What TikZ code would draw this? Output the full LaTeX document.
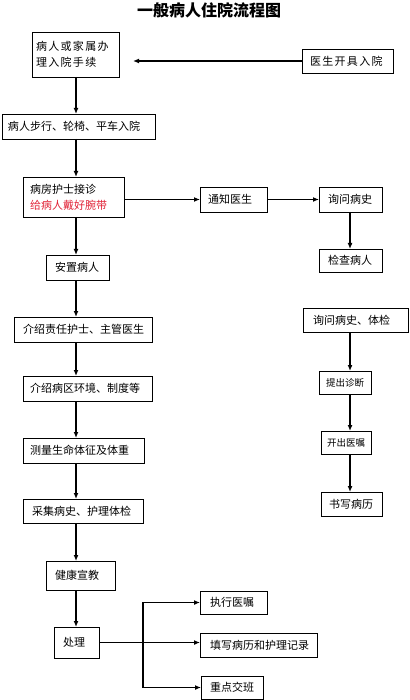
\documentclass[tikz,border=0pt]{standalone}
\usepackage{fontspec}
\setmainfont{Noto Sans CJK SC}
\newfontfamily\widecjk{Noto Sans CJK SC}[LetterSpace=12]
\usetikzlibrary{arrows.meta}
\definecolor{bandred}{RGB}{225,35,55}

\begin{document}
\begin{tikzpicture}[x=1pt,y=-1pt,>={Latex[length=6pt,width=5pt]},line join=miter,
    box/.style={draw,line width=0.8pt,outer sep=0pt,inner ysep=0pt,inner xsep=8pt,
                anchor=north west,align=left,font=\fontsize{11}{16}\selectfont},
    smallbox/.style={box,font=\fontsize{9.5}{12}\selectfont},
    flow/.style={->,line width=1.2pt}]

  \useasboundingbox (0,0) rectangle (409,700);

  % ---- title ------------------------------------------------------------
  \node[font=\fontsize{16}{16}\selectfont\bfseries] (title) at (209,10.5)
        {一般病人住院流程图};

  % ---- admission: left column -------------------------------------------
  \node[box,inner xsep=4pt,text width=79pt,minimum height=45pt] (admit) at (32,32)
        {\widecjk 病人或家属办\\\widecjk 理入院手续};
  \node[box,text width=75pt,minimum height=24pt] (doc) at (302,49)
        {\widecjk 医生开具入院};
  \node[box,inner xsep=6pt,text width=141pt,minimum height=25pt] (walk) at (2,114)
        {病人步行、轮椅、平车入院};
  \node[box,inner xsep=7pt,text width=87pt,minimum height=40pt] (nurse) at (23,177)
        {病房护士接诊\\\textcolor{bandred}{给病人戴好腕带}};
  \node[box,inner xsep=9pt,text width=45pt,minimum height=25pt] (settle) at (46,255)
        {安置病人};
  \node[box,inner xsep=9pt,text width=120pt,minimum height=25pt] (introA) at (14,317)
        {介绍责任护士、主管医生};
  \node[box,inner xsep=7pt,text width=115pt,minimum height=25pt] (introB) at (23,376)
        {介绍病区环境、制度等};
  \node[box,inner xsep=7pt,text width=107pt,minimum height=25pt] (vital) at (23,438)
        {测量生命体征及体重};
  \node[box,inner xsep=9pt,text width=102pt,minimum height=24pt] (collect) at (23,499)
        {采集病史、护理体检};
  \node[box,inner xsep=9pt,text width=51pt,minimum height=29pt] (edu) at (46,561)
        {健康宣教};
  \node[box,inner xsep=9pt,text width=27pt,minimum height=31pt] (deal) at (54,627)
        {处理};

  % ---- doctor side: right column ----------------------------------------
  \node[box,text width=51pt,minimum height=25pt] (notify) at (200,187) {通知医生};
  \node[box,inner xsep=9pt,text width=45pt,minimum height=25pt] (hist) at (319,187) {询问病史};
  \node[box,inner xsep=9pt,text width=45pt,minimum height=23pt] (check) at (319,249) {检查病人};
  \node[box,inner xsep=10pt,text width=85pt,minimum height=24pt] (histB) at (303,308)
        {询问病史、体检};
  \node[smallbox,inner xsep=7pt,text width=38pt,minimum height=23pt] (diag) at (319,371) {提出诊断};
  \node[smallbox,inner xsep=6pt,text width=38pt,minimum height=23pt] (order) at (321,431) {开出医嘱};
  \node[box,inner xsep=8pt,text width=45pt,minimum height=24pt] (record) at (321,492) {书写病历};

  % ---- handling branches ------------------------------------------------
  \node[box,inner xsep=10pt,text width=47pt,minimum height=23pt] (exec) at (200,591) {执行医嘱};
  \node[box,inner xsep=10pt,text width=97pt,minimum height=24pt] (fill) at (200,633)
        {填写病历和护理记录};
  \node[box,inner xsep=9pt,text width=44pt,minimum height=23pt] (key) at (201,676) {重点交班};

  % ---- connectors -------------------------------------------------------
  \coordinate (admitin) at (133,61);
  \coordinate (lspine) at (76,0);
  \coordinate (rspine) at (350,0);
  \coordinate (fork) at (143,0);

  \draw[flow] (doc.west) -- (admitin);
  \foreach \a/\b in {admit/walk,walk/nurse,nurse/settle,settle/introA,introA/introB,
                     introB/vital,vital/collect,collect/edu,edu/deal}{
     \draw[flow] (lspine |- \a.south) -- (lspine |- \b.north);
  }
  \draw[flow] (nurse.east |- notify.west) -- (notify.west);
  \draw[flow] (notify.east) -- (hist.west);
  \foreach \a/\b in {hist/check,histB/diag,diag/order,order/record}{
     \draw[flow] (rspine |- \a.south) -- (rspine |- \b.north);
  }
  \draw[flow] (deal.east) -- (deal.east -| fill.west);
  \draw[flow] (fork |- key.west) -- (fork |- exec.west) -- (exec.west);
  \draw[flow] (fork |- key.west) -- (key.west);

\end{tikzpicture}
\end{document}
